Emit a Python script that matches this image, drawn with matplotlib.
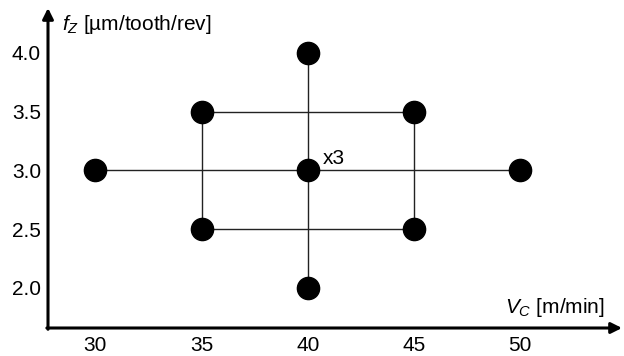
import numpy as np
import matplotlib
matplotlib.use('Agg')
from matplotlib import pyplot as plt

plt.rcParams['font.family'] = ['Liberation Sans', 'DejaVu Sans']
plt.rcParams['mathtext.fontset'] = 'custom'
plt.rcParams['mathtext.rm'] = 'Liberation Sans'
plt.rcParams['mathtext.it'] = 'Liberation Sans:italic'

# Design points (cutting speed vs feed per tooth)
vc_points = [30, 35, 35, 40, 40, 40, 45, 45, 50]
fz_points = [3.0, 2.5, 3.5, 2.0, 3.0, 4.0, 2.5, 3.5, 3.0]

# Connecting lines
h_line_vc = [30, 50]
h_line_fz = [3.0, 3.0]
v_line_vc = [40, 40]
v_line_fz = [2.0, 4.0]
box_vc = [35, 45, 45, 35, 35]
box_fz = [2.5, 2.5, 3.5, 3.5, 2.5]

x_ticks = [30, 35, 40, 45, 50]
y_ticks = [2.0, 2.5, 3.0, 3.5, 4.0]
y_tick_labels = ['2.0', '2.5', '3.0', '3.5', '4.0']

fig = plt.figure(figsize=(6.24, 3.56), dpi=100)
W, H = 624, 356
left, right, bottom, top = 48, 622, 328, 8
ax = fig.add_axes([left / W, (H - bottom) / H, (right - left) / W, (bottom - top) / H])

ax.plot(h_line_vc, h_line_fz, color='#222222', lw=1.0, zorder=1)
ax.plot(v_line_vc, v_line_fz, color='#222222', lw=1.0, zorder=1)
ax.plot(box_vc, box_fz, color='#222222', lw=1.0, zorder=1)
ax.plot(vc_points, fz_points, 'o', color='black', markersize=16, zorder=3)

ax.annotate('x3', xy=(40, 3.0), xytext=(10.5, 8.5), textcoords='offset points',
            fontsize=15, ha='left', va='center')

ax.set_xlim(27.774, 54.786)
ax.set_ylim(1.659, 4.382)

for s in ax.spines.values():
    s.set_visible(False)

# axes with arrowheads
ax.annotate('', xy=(1.0, 0), xytext=(-0.002, 0), xycoords='axes fraction',
            arrowprops=dict(arrowstyle='-|>', lw=2.2, color='black', mutation_scale=16,
                            shrinkA=0, shrinkB=0))
ax.annotate('', xy=(0, 1.0), xytext=(0, -0.004), xycoords='axes fraction',
            arrowprops=dict(arrowstyle='-|>', lw=2.2, color='black', mutation_scale=16,
                            shrinkA=0, shrinkB=0))

ax.set_xticks(x_ticks)
ax.set_yticks(y_ticks)
ax.set_yticklabels(y_tick_labels)
ax.tick_params(axis='both', length=0, labelsize=15)
ax.tick_params(axis='x', pad=6)
ax.tick_params(axis='y', pad=5)

ax.text(0.0244, 0.947, r'$f_Z$ [µm/tooth/rev]', transform=ax.transAxes,
        fontsize=15, ha='left', va='center')
ax.text(0.969, 0.065, r'$V_C$ [m/min]', transform=ax.transAxes,
        fontsize=15, ha='right', va='center')

fig.savefig('out.png', dpi=100)
